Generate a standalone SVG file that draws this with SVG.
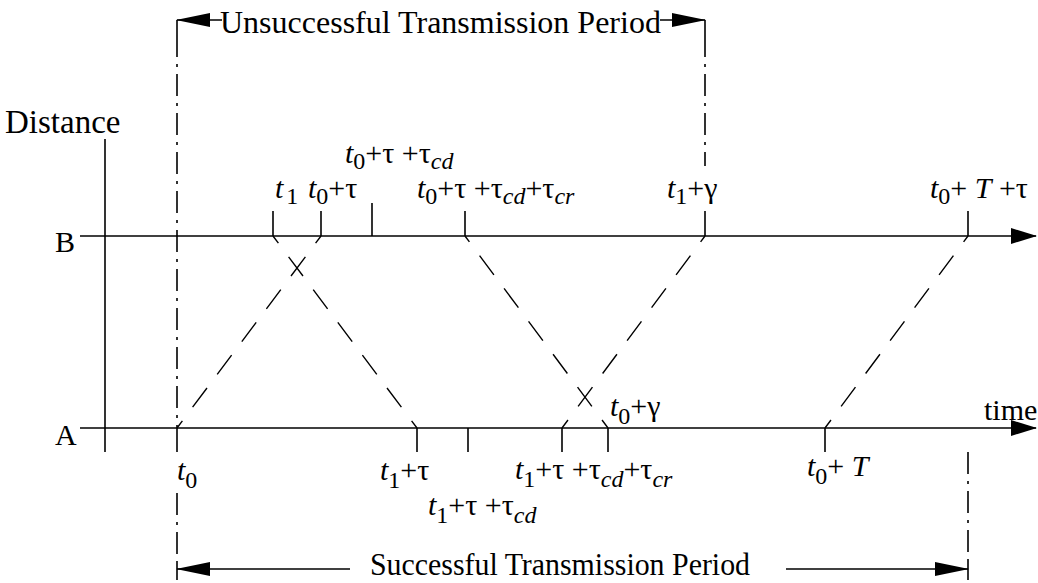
<svg xmlns="http://www.w3.org/2000/svg" width="1038" height="583" viewBox="0 0 1038 583">
  <defs>
    <marker id="axisArrow" markerUnits="userSpaceOnUse" markerWidth="26" markerHeight="16" viewBox="0 0 26 16" refX="25" refY="8" orient="auto">
      <path d="M0,0 L26,8 L0,16 z" fill="#000"/>
    </marker>
    <marker id="periodArrow" markerUnits="userSpaceOnUse" markerWidth="34" markerHeight="14" viewBox="0 0 34 14" refX="33" refY="7" orient="auto">
      <path d="M0,0 L34,7 L0,14 z" fill="#000"/>
    </marker>
    <style>
      text { font-family: "Liberation Serif", "Times New Roman", "DejaVu Serif", serif; font-size: 30px; fill: #000; }
      .big { font-size: 32px; }
      .i { font-style: italic; }
      .sub { font-size: 24px; }
      .axis { stroke: #000; stroke-width: 1.6; fill: none; }
      .tick { stroke: #000; stroke-width: 1.6; fill: none; }
      .dashdot { stroke: #000; stroke-width: 1.6; fill: none; stroke-dasharray: 22 7 3 7; }
      .signal { stroke: #000; stroke-width: 1.4; fill: none; stroke-dasharray: 24 17; stroke-dashoffset: 15; }
      .signalA { stroke: #000; stroke-width: 1.4; fill: none; stroke-dasharray: 24 17; stroke-dashoffset: 14; }
    </style>
  </defs>

  <!-- axes -->
  <g id="axes">
    <line class="axis" x1="105" y1="139" x2="105" y2="452"/>
    <line class="axis" x1="80" y1="236" x2="1036" y2="236" marker-end="url(#axisArrow)"/>
    <line class="axis" x1="80" y1="428" x2="1036" y2="428" marker-end="url(#axisArrow)"/>
    <text id="label-distance" x="5" y="133" style="font-size:33px">Distance</text>
    <text id="label-B" x="55" y="252">B</text>
    <text id="label-A" x="55" y="445">A</text>
    <text id="label-time" x="984" y="420">time</text>
  </g>

  <!-- period boundaries (dash-dot) -->
  <g id="boundaries">
    <line class="dashdot" x1="177" y1="35" x2="177" y2="428"/>
    <line class="dashdot" x1="177" y1="493" x2="177" y2="562"/>
    <line class="dashdot" x1="705" y1="35" x2="705" y2="166"/>
    <line class="dashdot" x1="968" y1="452" x2="968" y2="562"/>
    <line class="tick" x1="177" y1="20" x2="177" y2="35"/>
    <line class="tick" x1="705" y1="20" x2="705" y2="35"/>
    <line class="tick" x1="177" y1="562" x2="177" y2="580"/>
    <line class="tick" x1="968" y1="562" x2="968" y2="580"/>
  </g>

  <!-- event ticks -->
  <g id="ticks-B">
    <line class="tick" x1="273" y1="211" x2="273" y2="236"/>
    <line class="tick" x1="321" y1="211" x2="321" y2="236"/>
    <line class="tick" x1="372" y1="203" x2="372" y2="236"/>
    <line class="tick" x1="465" y1="211" x2="465" y2="236"/>
    <line class="tick" x1="705" y1="211" x2="705" y2="236"/>
    <line class="tick" x1="968" y1="211" x2="968" y2="236"/>
  </g>
  <g id="ticks-A">
    <line class="tick" x1="177" y1="428" x2="177" y2="452"/>
    <line class="tick" x1="417" y1="428" x2="417" y2="452"/>
    <line class="tick" x1="468" y1="428" x2="468" y2="452"/>
    <line class="tick" x1="562" y1="428" x2="562" y2="452"/>
    <line class="tick" x1="608" y1="428" x2="608" y2="452"/>
    <line class="tick" x1="825" y1="428" x2="825" y2="452"/>
  </g>

  <!-- signal propagation connectors -->
  <g id="connectors">
    <line class="signal" x1="321" y1="236" x2="177" y2="428"/>
    <line class="signal" x1="273" y1="236" x2="417" y2="428"/>
    <line class="signalA" x1="608" y1="428" x2="465" y2="236"/>
    <line class="signalA" x1="562" y1="428" x2="705" y2="236"/>
    <line class="signalA" x1="825" y1="428" x2="968" y2="236"/>
  </g>

  <!-- B labels -->
  <g id="labels-B">
    <text x="275" y="198"><tspan class="i">t</tspan><tspan class="sub" dx="3" dy="6">1</tspan></text>
    <text x="308" y="198"><tspan class="i">t</tspan><tspan class="sub" dy="6">0</tspan><tspan dy="-6">+τ</tspan></text>
    <text x="345" y="163"><tspan class="i">t</tspan><tspan class="sub" dy="6">0</tspan><tspan dy="-6">+τ +τ</tspan><tspan class="sub i" dy="6">cd</tspan></text>
    <text x="417" y="198"><tspan class="i">t</tspan><tspan class="sub" dy="6">0</tspan><tspan dy="-6">+τ +τ</tspan><tspan class="sub i" dy="6">cd</tspan><tspan dy="-6">+τ</tspan><tspan class="sub i" dy="6">cr</tspan></text>
    <text x="667" y="198"><tspan class="i">t</tspan><tspan class="sub" dy="6">1</tspan><tspan dy="-6">+γ</tspan></text>
    <text x="930" y="198"><tspan class="i">t</tspan><tspan class="sub" dy="6">0</tspan><tspan dy="-6">+ </tspan><tspan class="i">T</tspan><tspan> +τ</tspan></text>
  </g>

  <!-- A labels -->
  <g id="labels-A">
    <text x="177" y="480"><tspan class="i">t</tspan><tspan class="sub" dy="8">0</tspan></text>
    <text x="380" y="480"><tspan class="i">t</tspan><tspan class="sub" dy="8">1</tspan><tspan dy="-8">+τ</tspan></text>
    <text x="428" y="515"><tspan class="i">t</tspan><tspan class="sub" dy="8">1</tspan><tspan dy="-8">+τ +τ</tspan><tspan class="sub i" dy="8">cd</tspan></text>
    <text x="515" y="479"><tspan class="i">t</tspan><tspan class="sub" dy="8">1</tspan><tspan dy="-8">+τ +τ</tspan><tspan class="sub i" dy="8">cd</tspan><tspan dy="-8">+τ</tspan><tspan class="sub i" dy="8">cr</tspan></text>
    <text x="610" y="416"><tspan class="i">t</tspan><tspan class="sub" dy="8">0</tspan><tspan dy="-8">+γ</tspan></text>
    <text x="807" y="476"><tspan class="i">t</tspan><tspan class="sub" dy="8">0</tspan><tspan dy="-8">+ </tspan><tspan class="i">T</tspan></text>
  </g>

  <!-- periods -->
  <g id="period-unsuccessful">
    <line class="axis" x1="222" y1="20" x2="177" y2="20" marker-end="url(#periodArrow)"/>
    <line class="axis" x1="660" y1="20" x2="705" y2="20" marker-end="url(#periodArrow)"/>
    <text class="big" x="220" y="33">Unsuccessful Transmission Period</text>
  </g>
  <g id="period-successful">
    <line class="axis" x1="350" y1="569" x2="177" y2="569" marker-end="url(#periodArrow)"/>
    <line class="axis" x1="786" y1="569" x2="968" y2="569" marker-end="url(#periodArrow)"/>
    <text class="big" x="370" y="575" textLength="380" lengthAdjust="spacingAndGlyphs">Successful Transmission Period</text>
  </g>
</svg>
